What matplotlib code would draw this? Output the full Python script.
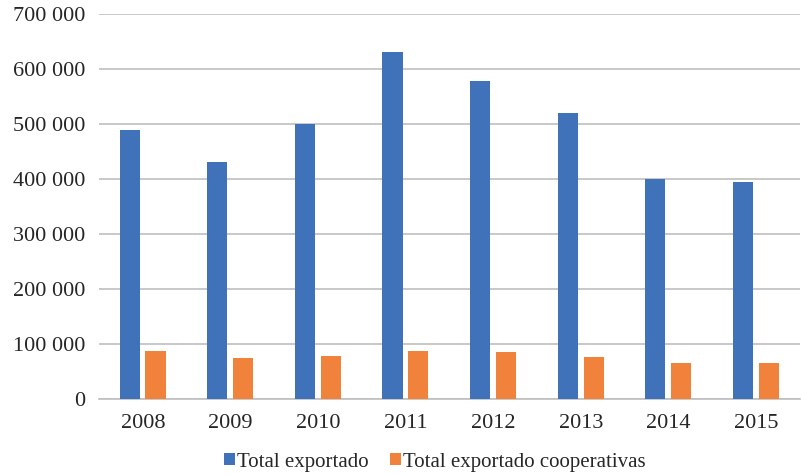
import matplotlib
matplotlib.use("Agg")
import matplotlib.pyplot as plt
import numpy as np

years = ["2008", "2009", "2010", "2011", "2012", "2013", "2014", "2015"]
total = [490000, 430000, 500000, 631000, 578000, 520000, 400000, 395000]
coop = [87000, 74500, 78000, 87000, 85500, 76500, 65500, 65500]
series_names = ["Total exportado", "Total exportado cooperativas"]
yticks = [0, 100000, 200000, 300000, 400000, 500000, 600000, 700000]
ytick_labels = ["0", "100 000", "200 000", "300 000", "400 000", "500 000", "600 000", "700 000"]

plt.rcParams['font.family'] = ['Liberation Serif', 'DejaVu Serif']

fig = plt.figure(figsize=(8.03, 4.75), dpi=100)
ax = fig.add_axes([99/803, 1 - 399/475, (800-99)/803, (399-14)/475])

x = np.arange(len(years))
w = 0.23
ax.bar(x - 0.15, total, width=w, color='#3F72B9', label=series_names[0], zorder=3)
ax.bar(x + 0.145, coop, width=w, color='#F0823B', label=series_names[1], zorder=3)

ax.set_xlim(-0.5, len(years) - 0.5)
ax.set_ylim(0, 700000)
ax.set_yticks(yticks)
ax.set_yticklabels(ytick_labels, fontsize=16, color='#262626')
ax.set_xticks(x)
ax.set_xticklabels(years, fontsize=16, color='#262626')
ax.tick_params(axis='y', length=0, pad=10)
ax.tick_params(axis='x', length=0, pad=10.5)
ax.yaxis.grid(True, color='#BFBFBF', linewidth=1.2, zorder=0)
for s in ['top', 'right', 'left']:
    ax.spines[s].set_visible(False)
ax.spines['bottom'].set_color('#BFBFBF')
ax.spines['bottom'].set_linewidth(1.2)

leg = fig.legend(loc='center', bbox_to_anchor=(435/803, 1 - 462/475), ncol=2, frameon=False,
                 fontsize=15, handlelength=0.55, handleheight=0.55, handletextpad=0.1,
                 columnspacing=1.0)
for t in leg.get_texts():
    t.set_color('#262626')

fig.savefig('out.png', dpi=100)
